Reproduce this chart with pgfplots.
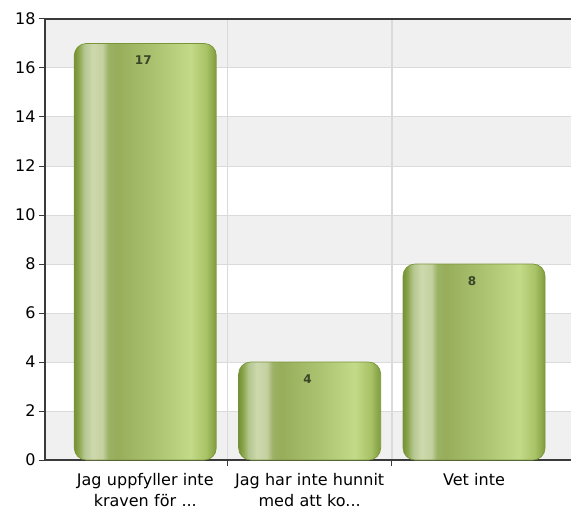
\documentclass[border=0pt]{standalone}
\usepackage{pgfplots}
\pgfplotsset{compat=1.18}
\usepackage{fontspec}
\setmainfont{DejaVu Sans}
\usetikzlibrary{calc}

\definecolor{bandgray}{HTML}{F0F0F0}
\definecolor{gridgray}{HTML}{DADADA}
\definecolor{axisdark}{HTML}{3A3A3A}
\definecolor{barline}{HTML}{7A9538}
\definecolor{valtext}{HTML}{3A4527}
\definecolor{bA}{HTML}{74913A}
\definecolor{bB}{HTML}{8AA548}
\definecolor{bC}{HTML}{B4C690}
\definecolor{bD}{HTML}{CDD9AD}
\definecolor{bE}{HTML}{C3D09F}
\definecolor{bF}{HTML}{9CB264}
\definecolor{bG}{HTML}{97AD5A}
\definecolor{bH}{HTML}{AAC270}
\definecolor{bI}{HTML}{C3DA88}
\definecolor{bJ}{HTML}{A8C266}
\definecolor{bK}{HTML}{7E9B3E}

% bar body: dark edges, light strip on the left, lighter towards the right
\pgfdeclarehorizontalshading{barshade}{100bp}{
  color(0bp)=(bA); color(25bp)=(bA); color(26.5bp)=(bB); color(28.5bp)=(bC);
  color(31.5bp)=(bD); color(35bp)=(bE); color(37bp)=(bF); color(40bp)=(bG);
  color(52.5bp)=(bH); color(66bp)=(bI); color(71.5bp)=(bJ); color(75bp)=(bK);
  color(100bp)=(bK)}

% labels kept in macros so the "..." is not read as a foreach range
\newcommand\catA{Jag uppfyller inte\\kraven för ...}
\newcommand\catB{Jag har inte hunnit\\med att ko...}
\newcommand\catC{Vet inte}

\pgfplotsset{greenbar/.style={shading=barshade, draw=barline, line width=0.7pt,
    rounded corners=12pt}}

\begin{document}
\begin{tikzpicture}
\begin{axis}[
    name=ax,
    set layers,
    scale only axis,
    width=526pt, height=441pt,
    xmin=-0.61, xmax=2.59,
    ymin=0, ymax=18,
    ytick={0,2,...,18},
    xtick={0,1,2},
    xticklabels={\catA,\catB,\catC},
    xticklabel style={align=center, text width=170pt, yshift=-4pt,
        font=\fontsize{16}{20.5}\selectfont},
    yticklabel style={font=\fontsize{16}{19}\selectfont},
    /pgf/number format/assume math mode=true,
    axis x line*=bottom,
    axis y line*=left,
    axis line style={axisdark, line width=1.1pt},
    tick align=outside,
    major tick length=6pt,
    xtick style={draw=none},
    ytick style={axisdark, line width=1pt},
    ymajorgrids=true,
    major grid style={gridgray, line width=1pt},
    extra x ticks={0.5,1.5},
    extra x tick labels={},
    extra x tick style={xmajorgrids=true, xtick style={draw=axisdark, line width=1pt},
        major grid style={gridgray, line width=1.5pt}},
    clip=false,
    ybar, bar shift=0pt,
    bar width=142pt,
    nodes near coords,
    every node near coord/.append style={anchor=north, yshift=-12pt, xshift=-2pt,
        inner sep=0pt, text=valtext, font=\bfseries\fontsize{12}{12}\selectfont},
]
\begin{pgfonlayer}{axis background}
\pgfplotsinvokeforeach{0,4,8,12,16}{
  \fill[bandgray] (axis cs:-0.61,#1) rectangle (axis cs:2.59,#1+2);
}
\end{pgfonlayer}

% one plot per bar, so each bar gets its own shading
\addplot[greenbar] coordinates {(0,17)};
\addplot[greenbar] coordinates {(1,4)};
\addplot[greenbar] coordinates {(2,8)};

\draw[axisdark, line width=1.6pt] (rel axis cs:0,1) -- (rel axis cs:1,1);
\end{axis}
\pgfresetboundingbox
\path ($(ax.south west)+(-45pt,-52pt)$) rectangle ($(ax.north east)+(0pt,19pt)$);
\end{tikzpicture}
\end{document}
